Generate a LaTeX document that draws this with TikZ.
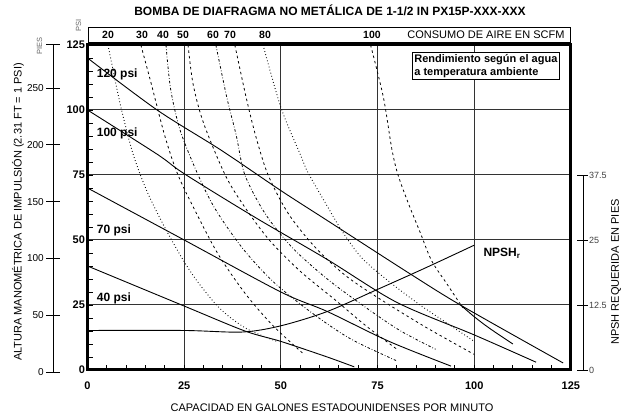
\documentclass[tikz,border=0pt]{standalone}
\usepackage{fontspec}
\setmainfont{Liberation Sans}
\newcommand{\fs}[1]{\fontsize{#1}{#1}\selectfont}
\newcommand{\ft}{1.136}

\begin{document}
\begin{tikzpicture}[x=1pt,y=1pt,
   grd/.style={draw=black!80,line width=1pt},
   crv/.style={line width=0.9pt},
   airdash/.style={line width=0.8pt,dash pattern=on 2.5pt off 3pt},
   airdd/.style={line width=0.8pt,dash pattern=on 2.5pt off 2pt on 0.7pt off 2pt},
   airdot/.style={line width=0.9pt,dash pattern=on 0.8pt off 2.4pt},
   lbl/.style={font=\fs{11}},
   num/.style={font=\fs{11}\bfseries},
   sml/.style={font=\fs{9},text=black!75}]
   \useasboundingbox (0,0) rectangle (631,417);
   \node[font=\fs{12}\bfseries] (title) at (330,407) {BOMBA DE DIAFRAGMA NO METÁLICA DE 1-1/2 IN PX15P-XXX-XXX};
   \node[lbl] (xlab) at (332,9) {CAPACIDAD EN GALONES ESTADOUNIDENSES POR MINUTO};
   \node[lbl,rotate=90] (ylab) at (18,205) {ALTURA MANOMÉTRICA DE IMPULSIÓN (2.31 FT = 1 PSI)};
   \node[lbl,rotate=90] (nlab) at (616,145) {NPSH REQUERIDA EN PIES};
   \node[font=\fs{7.5},text=black!60,rotate=90] (psi) at (78.5,392) {PSI};
   \node[font=\fs{7.5},text=black!60,rotate=90] (pies) at (39.5,371) {PIES};
   % consumo de aire
   \draw[line width=0.8pt] (88,375) rectangle (570,390);
   \foreach \p/\t in {108/20,142/30,163/40,183/50,213/60,230/70,265/80,372/100}
      \node[font=\fs{10.5}\bfseries] (c\t) at (\p,382.5) {\t};
   \node[font=\fs{11},anchor=east] (scfm) at (568,382.5) {CONSUMO DE AIRE EN SCFM};
   % pies
   \draw[line width=0.8pt] (53,45) -- (53,373);
   \draw[line width=0.8pt] (46,373) -- (60,373);
   \foreach \f in {0,50,...,250} {
      \draw[line width=0.8pt] (46,{45+\ft*\f}) -- (60,{45+\ft*\f});
      \node[font=\fs{10},anchor=east,inner sep=1pt] (f\f) at (45,{45+\ft*\f}) {\f};
   }
   % npsh
   \draw[line width=0.8pt] (583,47) -- (583,242);
   \foreach \n/\y in {0/47,12.5/112,25/177,37.5/242} {
      \draw[line width=0.8pt] (577,\y) -- (588,\y);
      \node[sml,anchor=west,inner sep=1pt] (n\y) at (588,\y) {\n};
   }
   \begin{scope}[shift={(87.5,47)},x=3.867pt,y=2.6pt]
      \foreach \v in {25,50,75,100} {
         \draw[grd] (\v,0) -- (\v,125);
         \draw[grd] (0,\v) -- (125,\v);
      }
      \foreach \v in {5,10,...,120} {
         \draw[line width=0.8pt] (\v,0) -- (\v,1.9);
         \draw[line width=0.8pt] (0,\v) -- (1.3,\v);
      }
      \foreach \v in {0,25,...,125} {
         \node[num,anchor=east,inner sep=0pt] (y\v) at (-0.6,\v) {\v};
         \node[num] (x\v) at (\v,-6) {\v};
      }
      % aire
      \draw[airdot] plot[smooth] coordinates {(5.3,125) (8.5,102) (11.8,83) (15.6,68) (21,52) (27,37) (34,24) (41,16) (49,11)};
      \draw[airdash] plot[smooth] coordinates {(13.8,125) (16.5,110) (20,90) (23.4,75) (28.6,59) (34,44) (41,29) (48,17) (56,6)};
      \draw[airdd] plot[smooth] coordinates {(20.3,125) (21.5,108) (24,92) (28.6,75) (33,62) (40,47) (48,34) (58,22) (68,12) (80,3.5)};
      \draw[airdash] plot[smooth] coordinates {(26,125) (27.3,110) (30,95) (35.6,75) (40.5,63) (47,50) (55,38) (64,27) (72,17) (80,8)};
      \draw[airdd] plot[smooth] coordinates {(33.2,125) (36,105) (38.5,90) (40.7,75) (46,60) (53,47) (62,35) (72,24) (81,15) (90,8)};
      \draw[airdash] plot[smooth] coordinates {(38.1,125) (41,105) (43.5,90) (46.7,75) (52,60) (59,47) (67,36) (77,26) (88,16) (100,6)};
      \draw[airdot] plot[smooth] coordinates {(45.4,125) (50,101) (55,83) (57,76) (62,63) (66,53) (71,43) (78,34) (86,25) (93,18) (100,11)};
      \draw[airdash] plot[smooth] coordinates {(73.2,125) (76.5,105) (78.7,85) (80.3,75) (83,64) (86,53) (89,42) (93,33) (97,24)};
      % presion
      \draw[crv] plot[smooth] coordinates {(0,120) (18,100) (34.5,84.6) (50,69) (62,57.5) (83.4,37) (97,24.5) (123,2.7)};
      \draw[crv] plot[smooth] coordinates {(0,100) (18,83) (25,75.5) (43,59) (62,42.5) (80,26) (100,13.5) (116,3)};
      \draw[crv] plot[smooth] coordinates {(0,70) (25,50) (50,30) (62,22.5) (78,11) (94,1.5)};
      \draw[crv] plot[smooth] coordinates {(0,40) (25,24.6) (40.7,15) (50,11) (62,5) (69,1.2)};
      \draw[crv] plot[smooth] coordinates {(96.5,25) (100,20.5) (104,16) (110,10)};
      \draw[crv] plot[smooth] coordinates {(0,15.2) (25,15.2) (40,14.6) (50,17) (62,22.5) (75,31) (87,39) (100,48)};
      \node[num,font=\fs{12}\bfseries,anchor=west] (p120) at (1.5,113.5) {120 psi};
      \node[num,font=\fs{12}\bfseries,anchor=west] (p100) at (1.5,91) {100 psi};
      \node[num,font=\fs{12}\bfseries,anchor=west] (p70) at (1.5,53.8) {70 psi};
      \node[num,font=\fs{12}\bfseries,anchor=west] (p40) at (1.5,27.7) {40 psi};
      \node[font=\fs{12}\bfseries,anchor=west] (npsh) at (101.5,45) {NPSH\textsubscript{r}};
      \node[draw,fill=white,line width=0.8pt,anchor=north west,align=left,inner sep=2pt,font=\fontsize{11}{13}\selectfont\bfseries] (note) at (83.9,122.3) {Rendimiento según el agua\\a temperatura ambiente};
      \draw[line width=3pt] (0,0) rectangle (125,125);
   \end{scope}
\end{tikzpicture}
\end{document}
